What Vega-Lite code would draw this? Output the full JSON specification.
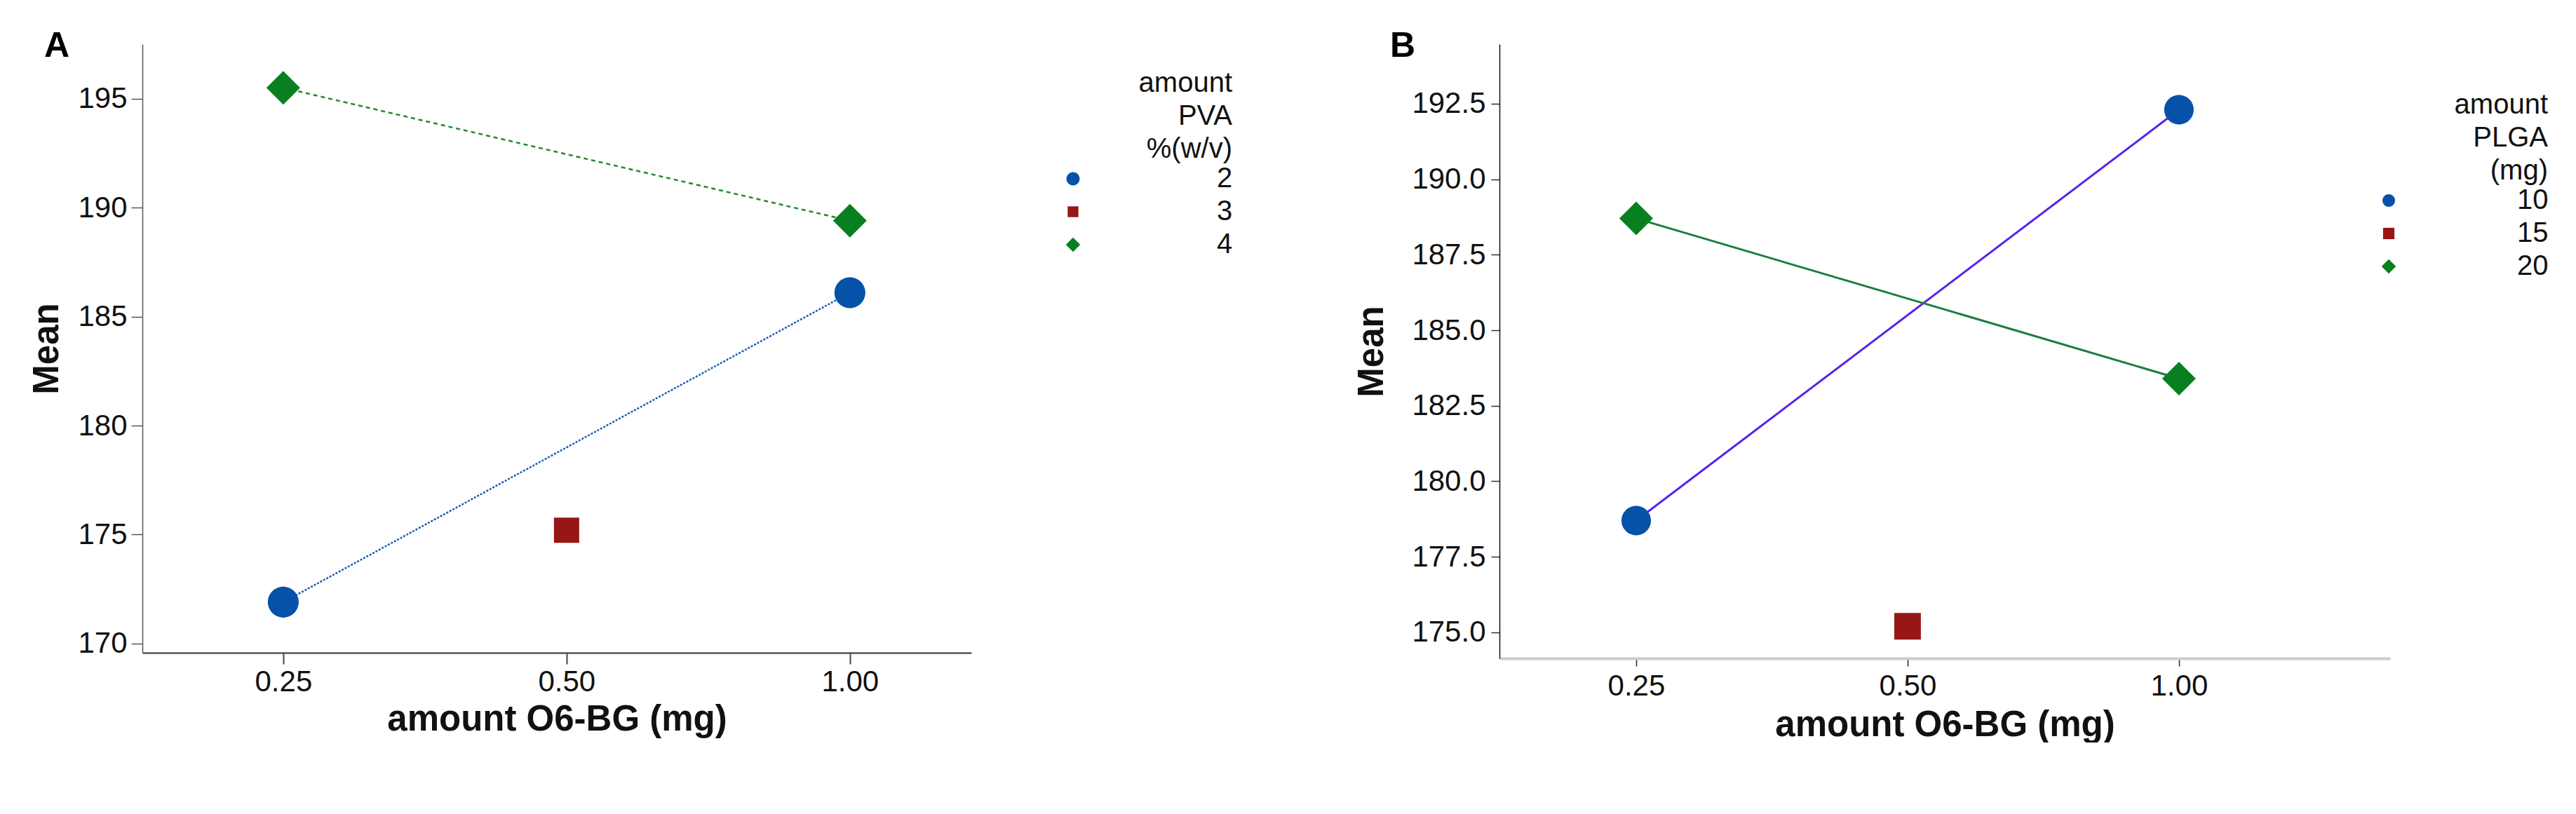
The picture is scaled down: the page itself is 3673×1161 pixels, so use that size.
{
  "$schema": "https://vega.github.io/schema/vega-lite/v6.json",
  "background": "white",
  "padding": {"left": 41, "top": 41, "right": 0, "bottom": 0},
  "spacing": 136,
  "datasets": {
    "pva": [
      {"o6bg": "0.25", "level": "2", "mean": 171.9},
      {"o6bg": "1.00", "level": "2", "mean": 186.1},
      {"o6bg": "0.50", "level": "3", "mean": 175.2},
      {"o6bg": "0.25", "level": "4", "mean": 195.5},
      {"o6bg": "1.00", "level": "4", "mean": 189.4}
    ],
    "plga": [
      {"o6bg": "0.25", "level": "10", "mean": 178.7},
      {"o6bg": "1.00", "level": "10", "mean": 192.3},
      {"o6bg": "0.50", "level": "15", "mean": 175.2},
      {"o6bg": "0.25", "level": "20", "mean": 188.7},
      {"o6bg": "1.00", "level": "20", "mean": 183.4}
    ]
  },
  "hconcat": [
    {
      "width": 1182,
      "height": 868,
      "title": {"text": "A", "anchor": "start", "frame": "bounds", "dx": 21, "offset": -68, "baseline": "alphabetic", "fontSize": 50, "fontWeight": "bold", "font": "Liberation Sans"},
      "data": {"name": "pva"},
      "encoding": {
        "x": {
          "field": "o6bg", "type": "ordinal", "sort": ["0.25", "0.50", "1.00"],
          "scale": {"type": "point", "padding": 0.463, "align": 0.537},
          "axis": {"title": "amount O6-BG (mg)", "labelAngle": 0, "domainColor": "#555", "domainWidth": 2.5, "tickColor": "#444", "tickWidth": 2, "tickSize": 16, "labelPadding": 5, "titlePadding": 8}
        },
        "y": {
          "field": "mean", "type": "quantitative",
          "scale": {"domain": [169.58, 197.5], "nice": false, "zero": false},
          "axis": {"title": "Mean", "values": [170, 175, 180, 185, 190, 195], "format": "d", "domainColor": "#555", "domainWidth": 1.5, "tickColor": "#555", "tickWidth": 1.5, "tickSize": 16, "labelPadding": 6, "titlePadding": 17}
        }
      },
      "layer": [
        {
          "mark": {"type": "line", "strokeWidth": 2.5},
          "encoding": {
            "detail": {"field": "level"},
            "stroke": {"field": "level", "type": "nominal", "scale": {"range": ["#1a5cb5", "#000000", "#23892f"]}, "legend": null},
            "strokeDash": {"field": "level", "type": "nominal", "scale": {"range": [[3, 2], [1, 0], [6, 5]]}, "legend": null}
          }
        },
        {
          "mark": {"type": "point", "filled": true, "opacity": 1, "strokeWidth": 0, "size": 2304},
          "encoding": {
            "fill": {
              "field": "level", "type": "nominal",
              "scale": {"domain": ["2", "3", "4"], "range": ["#0652a8", "#971616", "#08801f"]},
              "legend": {"title": ["amount", "PVA", "%(w/v)"], "orient": "right", "offset": 89, "padding": 36, "labelOffset": 185}
            },
            "shape": {
              "field": "level", "type": "nominal",
              "scale": {"domain": ["2", "3", "4"], "range": ["M0.917,0A0.917,0.917,0,1,1,-0.917,0A0.917,0.917,0,1,1,0.917,0Z", "M-0.75,-0.75H0.75V0.75H-0.75Z", "M-1,0L0,-1L1,0L0,1Z"]},
              "legend": {"title": ["amount", "PVA", "%(w/v)"], "orient": "right", "offset": 89, "padding": 36, "labelOffset": 185}
            }
          }
        }
      ]
    },
    {
      "width": 1270,
      "height": 876,
      "title": {"text": "B", "anchor": "start", "frame": "bounds", "dx": 51, "offset": -68, "baseline": "alphabetic", "fontSize": 50, "fontWeight": "bold", "font": "Liberation Sans"},
      "data": {"name": "plga"},
      "encoding": {
        "x": {
          "field": "o6bg", "type": "ordinal", "sort": ["0.25", "0.50", "1.00"],
          "scale": {"type": "point", "padding": 0.641, "align": 0.393},
          "axis": {"title": "amount O6-BG (mg)", "labelAngle": 0, "domainColor": "#cccccc", "domainWidth": 4, "tickColor": "#222", "tickWidth": 1.5, "tickSize": 11, "labelPadding": 8, "titlePadding": 10}
        },
        "y": {
          "field": "mean", "type": "quantitative",
          "scale": {"domain": [174.14, 194.47], "nice": false, "zero": false},
          "axis": {"title": "Mean", "values": [175, 177.5, 180, 182.5, 185, 187.5, 190, 192.5], "format": ".1f", "domainColor": "#111", "domainWidth": 1.5, "tickColor": "#333", "tickWidth": 1.5, "tickSize": 12, "labelPadding": 8, "titlePadding": 30}
        }
      },
      "layer": [
        {
          "mark": {"type": "line", "strokeWidth": 3},
          "encoding": {
            "detail": {"field": "level"},
            "stroke": {"field": "level", "type": "nominal", "scale": {"range": ["#5a22f0", "#8b1a1a", "#1a7d3e"]}, "legend": null}
          }
        },
        {
          "mark": {"type": "point", "filled": true, "opacity": 1, "strokeWidth": 0, "size": 2304},
          "encoding": {
            "fill": {
              "field": "level", "type": "nominal",
              "scale": {"domain": ["10", "15", "20"], "range": ["#0652a8", "#971616", "#08801f"]},
              "legend": {"title": ["amount", "PLGA", "(mg)"], "orient": "right", "offset": -89, "padding": 67, "labelOffset": 163}
            },
            "shape": {
              "field": "level", "type": "nominal",
              "scale": {"domain": ["10", "15", "20"], "range": ["M0.875,0A0.875,0.875,0,1,1,-0.875,0A0.875,0.875,0,1,1,0.875,0Z", "M-0.79,-0.79H0.79V0.79H-0.79Z", "M-1,0L0,-1L1,0L0,1Z"]},
              "legend": {"title": ["amount", "PLGA", "(mg)"], "orient": "right", "offset": -89, "padding": 67, "labelOffset": 163}
            }
          }
        }
      ]
    }
  ],
  "resolve": {
    "scale": {"x": "independent", "y": "independent", "fill": "independent", "shape": "independent", "stroke": "independent", "strokeDash": "independent"},
    "legend": {"fill": "independent", "shape": "independent"}
  },
  "config": {
    "view": {"stroke": null},
    "font": "Liberation Sans",
    "axis": {
      "labelFont": "Liberation Sans", "labelFontSize": 42, "labelColor": "#111",
      "titleFont": "Liberation Sans", "titleFontSize": 51, "titleFontWeight": "bold", "titleColor": "#111",
      "grid": false
    },
    "legend": {
      "titleFont": "Liberation Sans", "titleFontSize": 40, "titleFontWeight": "normal", "titleColor": "#111",
      "titleLineHeight": 47, "titleAnchor": "end", "titleAlign": "right", "titlePadding": 2,
      "labelFont": "Liberation Sans", "labelFontSize": 40, "labelColor": "#111",
      "symbolSize": 420, "symbolStrokeWidth": 0, "rowPadding": 7, "labelLimit": 400
    }
  }
}
